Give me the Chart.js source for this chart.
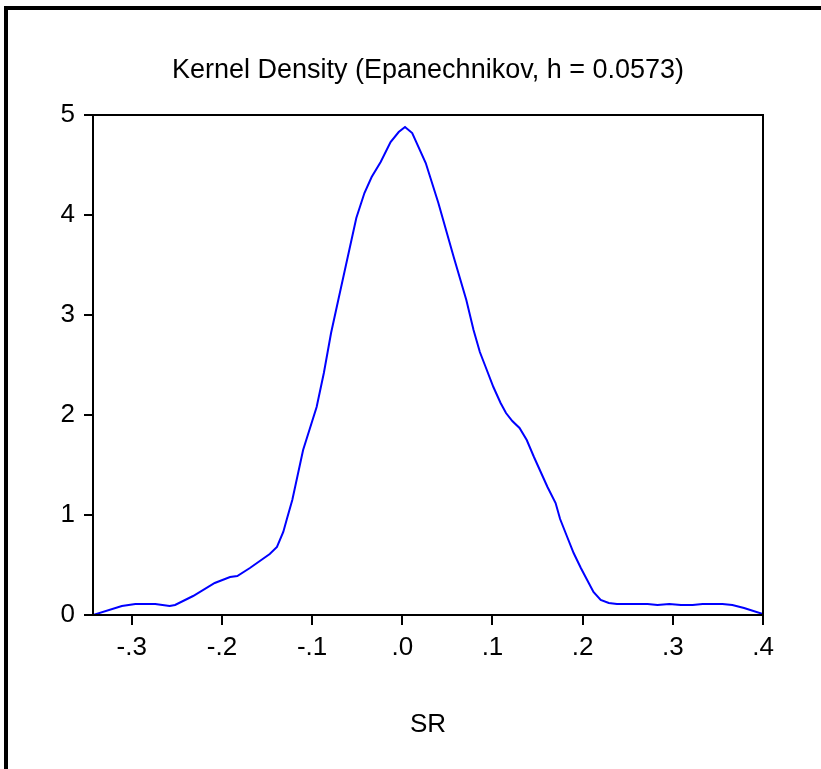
<!DOCTYPE html>
<html>
<head>
<meta charset="utf-8">
<script src="https://cdn.jsdelivr.net/npm/chart.js@4/dist/chart.umd.min.js"></script>
<style>
  html, body { margin: 0; padding: 0; background: #fff; }
  #wrap { position: relative; width: 821px; height: 769px; overflow: hidden; }
  #c { position: absolute; left: 0; top: 0; }
  #frame { position: absolute; left: 4px; top: 6px; width: 830px; height: 800px;
           border-left: 4px solid #000; border-top: 4px solid #000; pointer-events: none; }
</style>
</head>
<body>
<div id="wrap">
  <canvas id="c" width="821" height="769"></canvas>
  <div id="frame"></div>
</div>
<script>
// ---- data ----
const chartTitle = 'Kernel Density (Epanechnikov, h = 0.0573)';
const xAxisTitle = 'SR';
const srValues = [
  -0.343, -0.311, -0.296, -0.274, -0.258, -0.252, -0.232, -0.208, -0.191, -0.183,
  -0.169, -0.147, -0.139, -0.132, -0.128, -0.122, -0.110, -0.095, -0.087, -0.079,
  -0.071, -0.051, -0.042, -0.034, -0.024, -0.013, -0.004, 0.003, 0.011, 0.026,
  0.040, 0.057, 0.071, 0.079, 0.086, 0.092, 0.101, 0.109, 0.115, 0.122,
  0.130, 0.138, 0.146, 0.161, 0.170, 0.175, 0.182, 0.190, 0.198, 0.205,
  0.212, 0.220, 0.229, 0.238, 0.272, 0.283, 0.296, 0.309, 0.322, 0.333,
  0.355, 0.366, 0.379, 0.400
];
const densityValues = [
  0.00, 0.09, 0.11, 0.11, 0.09, 0.10, 0.19, 0.32, 0.38, 0.39,
  0.47, 0.61, 0.68, 0.83, 0.96, 1.15, 1.65, 2.08, 2.42, 2.82,
  3.15, 3.97, 4.22, 4.38, 4.53, 4.73, 4.83, 4.88, 4.82, 4.52,
  4.12, 3.58, 3.15, 2.85, 2.63, 2.49, 2.28, 2.12, 2.02, 1.94,
  1.87, 1.75, 1.58, 1.28, 1.12, 0.96, 0.80, 0.62, 0.47, 0.35,
  0.23, 0.15, 0.12, 0.11, 0.11, 0.10, 0.11, 0.10, 0.10, 0.11,
  0.11, 0.10, 0.07, 0.01
];
const xTickValues = [-0.3, -0.2, -0.1, 0.0, 0.1, 0.2, 0.3, 0.4];
const xTickLabels = ['-.3', '-.2', '-.1', '.0', '.1', '.2', '.3', '.4'];
const yTickValues = [0, 1, 2, 3, 4, 5];
const yTickLabels = ['0', '1', '2', '3', '4', '5'];
const xMin = -0.343, xMax = 0.4, yMin = 0, yMax = 5;

const points = srValues.map((x, i) => ({ x: x, y: densityValues[i] }));
const FONT = 'Liberation Sans, Arial, sans-serif';

const boxPlugin = {
  id: 'boxPlugin',
  afterDraw(chart) {
    const a = chart.chartArea, ctx = chart.ctx;
    ctx.save();
    ctx.strokeStyle = '#000';
    ctx.lineWidth = 2;
    ctx.strokeRect(a.left, a.top, a.right - a.left, a.bottom - a.top);
    ctx.restore();
  }
};

new Chart(document.getElementById('c'), {
  type: 'line',
  data: {
    datasets: [{
      data: points,
      borderColor: '#0000ff',
      borderWidth: 2,
      pointRadius: 0,
      tension: 0,
      fill: false
    }]
  },
  options: {
    responsive: false,
    animation: false,
    devicePixelRatio: 1,
    layout: { padding: { left: 0, right: 58, top: 0, bottom: 0 } },
    plugins: {
      legend: { display: false },
      tooltip: { enabled: false },
      title: {
        display: true,
        text: chartTitle,
        fullSize: false,
        color: '#000',
        font: { family: FONT, size: 27, weight: 'normal', lineHeight: 1.2 },
        padding: { top: 54, bottom: 28.6 }
      }
    },
    scales: {
      x: {
        type: 'linear',
        min: xMin, max: xMax,
        afterBuildTicks: (s) => { s.ticks = xTickValues.map(v => ({ value: v })); },
        afterFit: (s) => { s.height = 154; },
        ticks: {
          color: '#000',
          font: { family: FONT, size: 26 },
          padding: 7,
          maxRotation: 0,
          autoSkip: false,
          callback: (v, i) => xTickLabels[i]
        },
        grid: { drawOnChartArea: false, color: '#000', lineWidth: 2, tickLength: 10 },
        border: { display: true, color: '#000', width: 2 },
        title: {
          display: true,
          text: xAxisTitle,
          color: '#000',
          font: { family: FONT, size: 26, lineHeight: 1.2 },
          padding: { top: 0, bottom: 29 }
        }
      },
      y: {
        type: 'linear',
        min: yMin, max: yMax,
        afterBuildTicks: (s) => { s.ticks = yTickValues.map(v => ({ value: v })); },
        afterFit: (s) => { s.width = 93; },
        ticks: {
          color: '#000',
          font: { family: FONT, size: 26 },
          padding: 9,
          callback: (v, i) => yTickLabels[i]
        },
        grid: { drawOnChartArea: false, color: '#000', lineWidth: 2, tickLength: 9 },
        border: { display: true, color: '#000', width: 2 }
      }
    }
  },
  plugins: [boxPlugin]
});
</script>
</body>
</html>
